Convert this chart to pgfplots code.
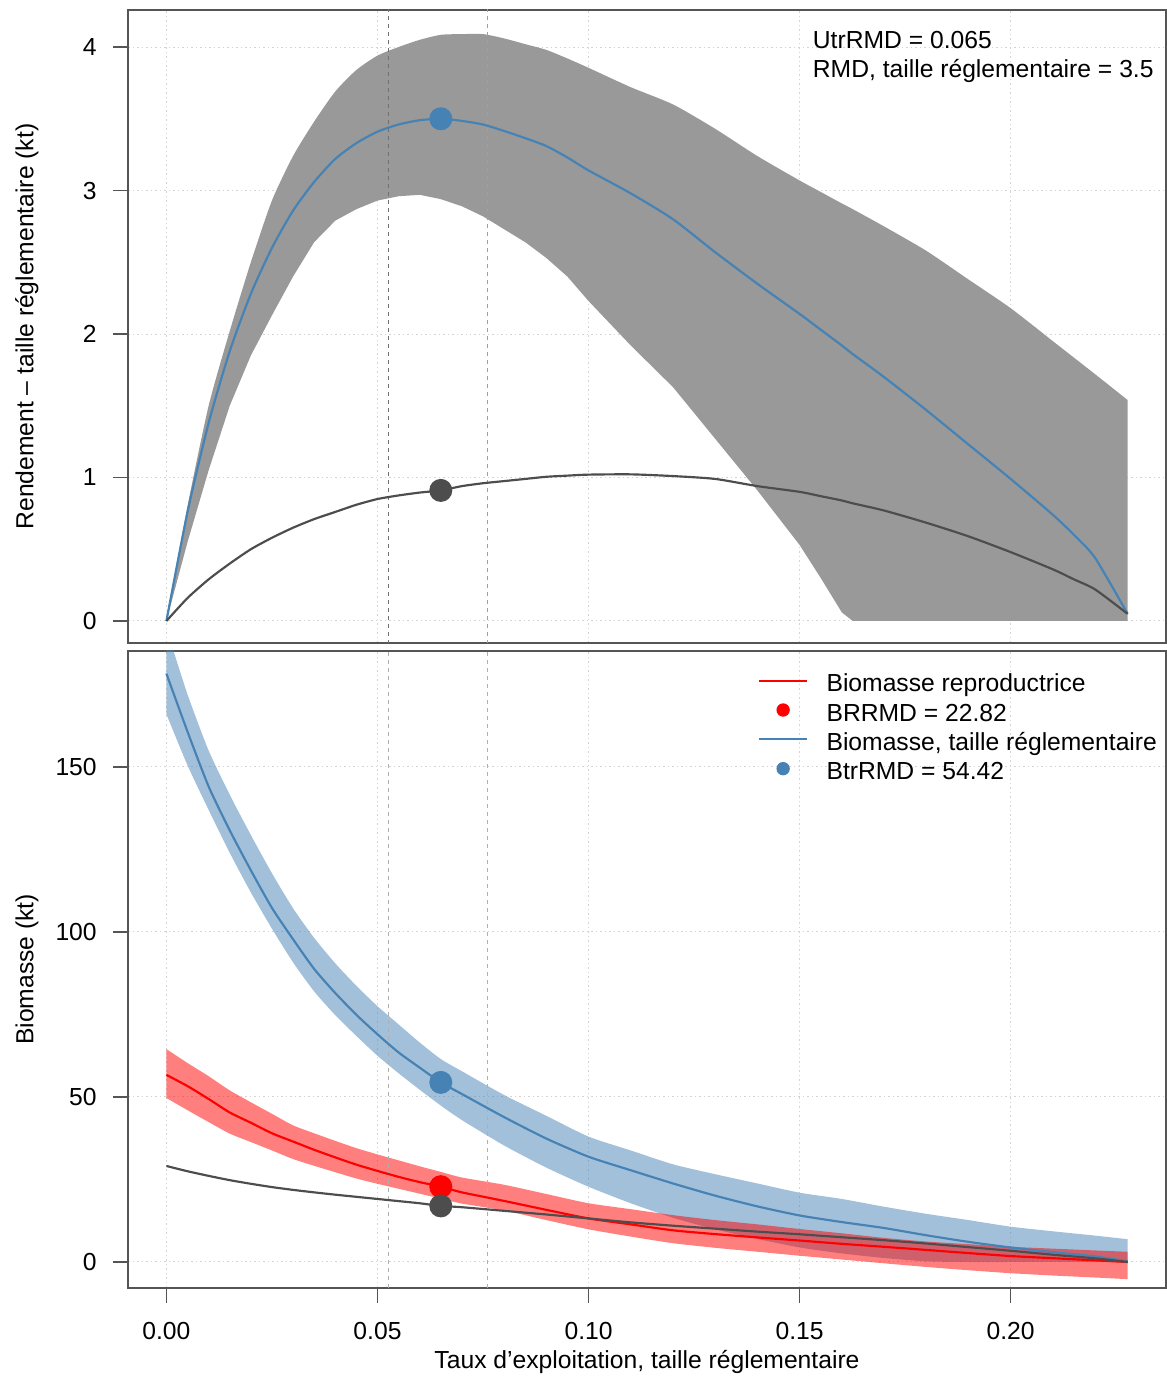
\documentclass[border=0pt]{standalone}
\usepackage{fontspec}
\setmainfont{Liberation Sans}
\usepackage{pgfplots}
\usepackage{pgfplotstable}
\pgfplotsset{compat=1.18}
\usepgfplotslibrary{fillbetween}

\definecolor{steel}{RGB}{70,130,180}
\definecolor{bandgray}{RGB}{153,153,153}
\definecolor{curvegray}{RGB}{77,77,77}
\definecolor{framegray}{RGB}{85,85,85}
\definecolor{gridc}{RGB}{211,211,211}
\definecolor{refblue}{RGB}{130,165,200}
\definecolor{refgray}{RGB}{112,112,112}
\definecolor{reflight}{RGB}{175,175,175}
\newcommand\fsz{\fontsize{7.4pt}{8.9pt}\selectfont}

% yield per exploitation rate: legal-size yield, its band, total yield
\pgfplotstableread{
u       rend   lo    hi     tot
0       0      0     0      0
0.005   0.76   0.55  0.80   0.16
0.01    1.38   1.05  1.50   0.29
0.015   1.88   1.50  2.02   0.40
0.02    2.28   1.85  2.50   0.50
0.025   2.60   2.13  2.93   0.58
0.03    2.86   2.40  3.24   0.65
0.035   3.06   2.64  3.48   0.71
0.04    3.22   2.79  3.69   0.76
0.045   3.33   2.87  3.84   0.81
0.05    3.41   2.93  3.94   0.85
0.055   3.46   2.96  4.00   0.875
0.06    3.49   2.97  4.05   0.895
0.065   3.50   2.94  4.085  0.91
0.07    3.485  2.89  4.09   0.94
0.075   3.46   2.82  4.09   0.96
0.08    3.415  2.73  4.06   0.975
0.085   3.365  2.64  4.02   0.99
0.09    3.31   2.53  3.98   1.005
0.095   3.23   2.40  3.92   1.013
0.10    3.14   2.23  3.855  1.02
0.11    2.98   1.92  3.72   1.022
0.12    2.80   1.63  3.60   1.01
0.13    2.57   1.27  3.43   0.99
0.14    2.35   0.91  3.24   0.94
0.15    2.14   0.53  3.07   0.90
0.155   2.03   0.30  2.99   0.87
0.16    1.92   0.06  2.91   0.84
0.1626  1.86   0     2.87   0.82
0.17    1.70   0     2.75   0.77
0.18    1.47   0     2.58   0.685
0.19    1.23   0     2.38   0.59
0.20    0.99   0     2.18   0.48
0.21    0.74   0     1.95   0.36
0.215   0.60   0     1.835  0.29
0.22    0.44   0     1.72   0.22
0.2277  0.05   0     1.54   0.05
}\rendement

% biomass: legal size (bt), spawning (br), total (bg), with bands
\pgfplotstableread{
u       bt     btl    btu    br     brl    bru    bg
0       178.3  166    192    56.7   49.7   64.5   29.1
0.005   160.7  150.5  172    53.3   46.0   60.3   27.5
0.01    144.1  137    155    49.4   42.4   56.3   26.1
0.015   130.8  124    141.6  45.3   38.9   52.0   24.8
0.02    118.7  112    129.4  42.2   36.35  48.4   23.7
0.025   107.3  101    117.8  39.0   33.8   44.9   22.7
0.03    97.8   90.8   107.2  36.5   31.2   41.4   21.85
0.035   88.8   82     98.2   34.0   29.15  39.0   21.1
0.04    81.5   74.8   90.5   31.7   27.2   36.7   20.4
0.045   74.9   68.5   83.7   29.5   25.3   34.5   19.75
0.05    69.0   62.5   77.5   27.6   23.7   32.6   19.1
0.055   63.5   57.2   72     25.8   22.2   30.8   18.45
0.06    58.9   52.2   66.5   24.2   20.7   29.0   17.8
0.065   54.42  47.4   61.5   22.82  19.2   27.3   17.0
0.07    50.9   43.0   57.8   21.1   17.7   25.6   16.6
0.08    43.9   35.3   50.6   18.5   15.6   23.4   15.5
0.09    37.4   28.6   44.3   15.8   12.7   20.6   14.4
0.10    31.9   22.8   38.0   13.2   9.9    17.8   13.2
0.11    27.8   17.8   33.8   11.4   7.7    16.0   12.0
0.12    23.8   13.4   29.6   9.6    5.7    14.2   11.0
0.13    20.1   9.9    26.6   8.45   4.3    12.7   10.1
0.14    16.85  7.0    23.8   7.45   3.1    11.4   9.2
0.15    14.1   4.4    21.0   6.5    1.9    10.0   8.4
0.16    12.1   2.6    19.1   5.5    0.75   8.7    7.5
0.17    10.3   1.2    16.75  4.6    -0.4   7.3    6.6
0.18    8.1    0.2    14.6   3.65   -1.5   6.2    5.6
0.19    6.1    0      12.7   2.7    -2.5   5.4    4.5
0.20    4.4    0      10.7   1.8    -3.4   4.6    3.4
0.21    3.0    0      9.3    1.15   -4.1   4.05   2.2
0.22    1.7    0      8.0    0.5    -4.7   3.5    1.1
0.2277  0.2    0      6.9    0      -5.2   3.1    0
}\biomasse

\pgfplotsset{
  panel/.style={
    scale only axis, width=311.4pt,
    xmin=-0.0091, xmax=0.2368,
    xtick={0,0.05,0.1,0.15,0.2},
    grid=major,
    major grid style={gridc, line width=0.3pt, dash pattern=on 0.45pt off 0.9pt},
    axis line style={framegray, line width=0.4pt},
    tick style={framegray, line width=0.4pt},
    tick align=outside, major tick length=4.5pt,
    xtick pos=left, ytick pos=left,
    /pgf/number format/assume math mode=true,
    every tick label/.append style={font=\fsz, text=black},
    yticklabel style={anchor=east, inner sep=0pt, xshift=-4.7pt},
    every axis y label/.style={at={([xshift=-28.4pt]axis description cs:0,0.5)},
      rotate=90, anchor=base, font=\fsz},
  },
  edge/.style={draw=none, smooth, tension=0.4, forget plot},
  curve/.style={line width=0.65pt, smooth, tension=0.4, forget plot},
  dot/.style={only marks, mark=*, mark size=3.25pt, forget plot},
  vline/.style={line width=0.35pt, dash pattern=on 1.2pt off 1.2pt, forget plot},
}

\begin{document}
\begin{tikzpicture}
% ---------- yield panel ----------
\begin{axis}[panel, at={(38.4pt,219.9pt)}, anchor=south west, height=189.9pt,
  ymin=-0.1533, ymax=4.258,
  ytick={0,1,2,3,4}, yticklabels={0,1,2,3,4},
  xticklabels={}, xtick style={draw=none},
  ylabel={Rendement – taille réglementaire (kt)}]
  \addplot[edge, name path=hi] table[x=u, y=hi] {\rendement};
  \addplot[draw=none, forget plot, name path=lo] table[x=u, y=lo] {\rendement};
  \addplot[fill=bandgray, draw=none, forget plot] fill between[of=hi and lo];
  \addplot[vline, refgray] coordinates {(0.0526,-1) (0.0526,5)};
  \addplot[vline, refblue] coordinates {(0.0761,-1) (0.0761,5)};
  \addplot[curve, steel] table[x=u, y=rend] {\rendement};
  \addplot[curve, curvegray] table[x=u, y=tot] {\rendement};
  \addplot[dot, steel] coordinates {(0.065,3.5)};
  \addplot[dot, curvegray] coordinates {(0.065,0.91)};
  \node[anchor=base west, inner sep=0pt, font=\fsz] at (axis description cs:0.6592,0.9395) {UtrRMD = 0.065};
  \node[anchor=base west, inner sep=0pt, font=\fsz] at (axis description cs:0.6592,0.8937) {RMD, taille réglementaire = 3.5};
\end{axis}
% ---------- biomass panel ----------
\begin{axis}[panel, at={(38.4pt,26.4pt)}, anchor=south west, height=191.1pt,
  ymin=-7.88, ymax=185.15,
  ytick={0,50,100,150}, yticklabels={0,50,100,150},
  xticklabels={0.00,0.05,0.10,0.15,0.20},
  xticklabel style={anchor=base, inner sep=0pt, yshift=-11.1pt},
  xlabel={Taux d’exploitation, taille réglementaire},
  every axis x label/.style={at={(axis description cs:0.5,0)}, anchor=base, yshift=-24.1pt, font=\fsz},
  ylabel={Biomasse (kt)},
  legend cell align=left,
  legend style={at={(axis description cs:0.607,0.9733)}, anchor=north west,
    draw=none, fill=none, inner sep=0pt, outer sep=0pt, font=\fsz,
    row sep=1.2pt, nodes={inner sep=0pt, outer sep=0pt, text height=7.1pt, text depth=0.5pt},
    /tikz/every odd column/.style={column sep=5.5pt}}]
  \addplot[edge, name path=btu] table[x=u, y=btu] {\biomasse};
  \addplot[edge, name path=btl] table[x=u, y=btl] {\biomasse};
  \addplot[fill=steel, fill opacity=0.5, draw=none, forget plot] fill between[of=btu and btl];
  \addplot[edge, name path=bru] table[x=u, y=bru] {\biomasse};
  \addplot[edge, name path=brl] table[x=u, y=brl] {\biomasse};
  \addplot[fill=red, fill opacity=0.5, draw=none, forget plot] fill between[of=bru and brl];
  \addplot[vline, reflight] coordinates {(0.0526,-20) (0.0526,200)};
  \addplot[vline, reflight] coordinates {(0.0761,-20) (0.0761,200)};
  \addplot[curve, steel] table[x=u, y=bt] {\biomasse};
  \addplot[curve, red] table[x=u, y=br] {\biomasse};
  \addplot[curve, curvegray] table[x=u, y=bg] {\biomasse};
  \addplot[dot, steel] coordinates {(0.065,54.42)};
  \addplot[dot, red] coordinates {(0.065,22.82)};
  \addplot[dot, curvegray] coordinates {(0.065,17.0)};
  \addlegendimage{legend image code/.code={\draw[red, line width=0.65pt] (0pt,0pt) -- (14.4pt,0pt);}}
  \addlegendentry{Biomasse reproductrice}
  \addlegendimage{legend image code/.code={\path[draw=none] (-0.325pt,0pt) -- (14.725pt,0pt); \fill[red] (7.2pt,0pt) circle[radius=1.8pt];}}
  \addlegendentry{BRRMD = 22.82}
  \addlegendimage{legend image code/.code={\draw[steel, line width=0.65pt] (0pt,0pt) -- (14.4pt,0pt);}}
  \addlegendentry{Biomasse, taille réglementaire}
  \addlegendimage{legend image code/.code={\path[draw=none] (-0.325pt,0pt) -- (14.725pt,0pt); \fill[steel] (7.2pt,0pt) circle[radius=1.8pt];}}
  \addlegendentry{BtrRMD = 54.42}
\end{axis}
\pgfresetboundingbox
\useasboundingbox (0,0) rectangle (350.1pt,412.8pt);
\end{tikzpicture}
\end{document}
